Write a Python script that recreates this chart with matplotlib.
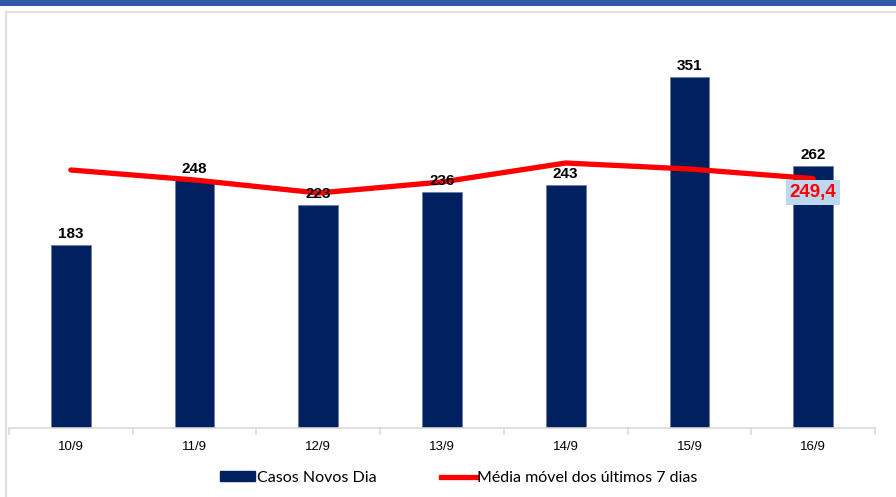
import matplotlib.pyplot as plt
import matplotlib.lines as mlines
import matplotlib.patches as mpatches
import numpy as np

dias = ["10/9", "11/9", "12/9", "13/9", "14/9", "15/9", "16/9"]
casos = [183, 248, 223, 236, 243, 351, 262]
media = [258, 248, 235, 246, 265, 259, 249.4]

W, H = 896, 497
fig = plt.figure(figsize=(W / 100, H / 100), dpi=100)

# top band and grey frame
fig.add_artist(mpatches.Rectangle((0, 1 - 6 / H), 1, 6 / H, transform=fig.transFigure,
                                  color="#3059a8", lw=0))
fig.add_artist(mlines.Line2D([5.5 / W, 5.5 / W], [0, 1 - 11.5 / H], transform=fig.transFigure,
                             color="#e0e0e0", lw=1.6))
fig.add_artist(mlines.Line2D([5.5 / W, 1], [1 - 11.5 / H, 1 - 11.5 / H], transform=fig.transFigure,
                             color="#e0e0e0", lw=1.6))

ax = fig.add_axes([9 / W, 69 / H, 866 / W, 408 / H])
x = np.arange(len(dias))
bars = ax.bar(x, casos, width=0.32, color="#00205f", edgecolor="#6b7fae", lw=0.6, zorder=2)
ax.plot(x, media, color="#ff0000", lw=3.8, solid_capstyle="round", zorder=3)

for xi, v in zip(x, casos):
    ax.text(xi, v + 4, str(v), ha="center", va="bottom", fontsize=11, fontweight="bold",
            family="Liberation Sans", zorder=4)

ax.text(x[-1], media[-1] - 14, "249,4", ha="center", va="center", fontsize=13.5,
        fontweight="bold", color="#ff0000", family="Liberation Sans", zorder=5,
        bbox=dict(boxstyle="square,pad=0.2", fc="#bdd7ee", ec="none"))

ax.set_xlim(-0.5, len(dias) - 0.5)
ax.set_ylim(0, 408)
for s in ["top", "right", "left"]:
    ax.spines[s].set_visible(False)
ax.spines["bottom"].set_color("#d9d9d9")
ax.spines["bottom"].set_linewidth(1.2)
ax.set_yticks([])
ax.set_xticks(x)
ax.set_xticklabels(dias, fontsize=9.5, family="Liberation Sans")
ax.tick_params(axis="x", length=0, pad=9)
for b in np.arange(-0.5, len(dias), 1.0):
    ax.plot([b, b], [0, -5.5], color="#d9d9d9", lw=1.2, clip_on=False)

h1 = mpatches.Patch(color="#00205f", label="Casos Novos Dia")
h2 = mlines.Line2D([], [], color="#ff0000", lw=3.8, label="Média móvel dos últimos 7 dias")
fig.legend(handles=[h1, h2], loc="center", bbox_to_anchor=(459 / W, 1 - 478 / H), ncol=2,
           frameon=False, prop={"family": "Lato", "size": 11.5}, handlelength=2.2,
           handletextpad=0.1, columnspacing=4.0, handleheight=0.6)

fig.savefig("out.png", dpi=100)
